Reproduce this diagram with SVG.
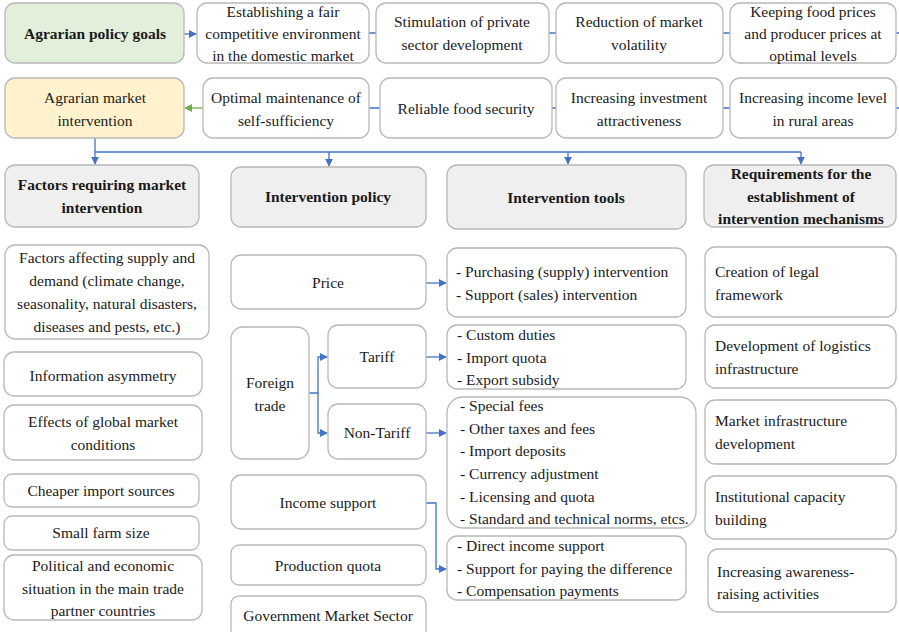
<svg xmlns="http://www.w3.org/2000/svg" width="899" height="632" viewBox="0 0 899 632">
<defs>
<style>
.bx{fill:#fff;stroke:#b8b8b8;stroke-width:1.3}
.hd{fill:#efefef;stroke:#b8b8b8;stroke-width:1.3}
.t{font-family:'Times New Roman','Liberation Serif',serif;font-size:15.5px;fill:#1a1a1a}
.c{text-anchor:middle}
.b{font-weight:bold}
.ln{fill:none;stroke:#4472c4;stroke-width:1.3}
.gl{fill:none;stroke:#70ad47;stroke-width:1.3}
</style>
<marker id="ab" viewBox="0 0 10 10" refX="9" refY="5" markerWidth="8" markerHeight="8" markerUnits="userSpaceOnUse" orient="auto"><path d="M0,0L10,5L0,10z" fill="#4472c4"/></marker>
<marker id="ag" viewBox="0 0 10 10" refX="9" refY="5" markerWidth="8" markerHeight="8" markerUnits="userSpaceOnUse" orient="auto"><path d="M0,0L10,5L0,10z" fill="#70ad47"/></marker>
</defs>
<rect width="899" height="632" fill="#fff"/>

<g id="connectors">
<path class="ln" d="M184,34H196" marker-end="url(#ab)"/>
<path class="ln" d="M369,33H376M549,33H556M723,33H730M896,33H899"/>
<path class="gl" d="M203,108H185" marker-end="url(#ag)"/>
<path class="ln" d="M369,108H380M552,108H556M723,108H730M896,108H899"/>
<path class="ln" d="M95,138V164" marker-end="url(#ab)"/>
<path class="ln" d="M95,152H801"/>
<path class="ln" d="M329,152V166" marker-end="url(#ab)"/>
<path class="ln" d="M568,152V164" marker-end="url(#ab)"/>
<path class="ln" d="M801,152V164" marker-end="url(#ab)"/>
<path class="ln" d="M426,283H446" marker-end="url(#ab)"/>
<path class="ln" d="M309,393H318V357H327" marker-end="url(#ab)"/>
<path class="ln" d="M318,393V433H327" marker-end="url(#ab)"/>
<path class="ln" d="M426,357H446" marker-end="url(#ab)"/>
<path class="ln" d="M426,433H446" marker-end="url(#ab)"/>
<path class="ln" d="M426,503H436V569H446" marker-end="url(#ab)"/>
</g>

<g id="n-goals"><rect x="5" y="3" width="179" height="60" rx="10" fill="#e2efda" stroke="#b8b8b8" stroke-width="1.3"/><text class="t c b" x="95" y="39">Agrarian policy goals</text></g>
<g id="n-g1"><rect class="bx" x="197" y="3" width="172" height="60" rx="10"/><text class="t c" x="283" y="17">Establishing a fair</text><text class="t c" x="283" y="39">competitive environment</text><text class="t c" x="283" y="61">in the domestic market</text></g>
<g id="n-g2"><rect class="bx" x="376" y="3" width="173" height="60" rx="10"/><text class="t c" x="462" y="27">Stimulation of private</text><text class="t c" x="462" y="50">sector development</text></g>
<g id="n-g3"><rect class="bx" x="556" y="3" width="167" height="60" rx="10"/><text class="t c" x="639" y="27">Reduction of market</text><text class="t c" x="639" y="50">volatility</text></g>
<g id="n-g4"><rect class="bx" x="730" y="3" width="166" height="60" rx="10"/><text class="t c" x="813" y="17">Keeping food prices</text><text class="t c" x="813" y="39">and producer prices at</text><text class="t c" x="813" y="61">optimal levels</text></g>

<g id="n-ami"><rect x="5" y="78" width="179" height="60" rx="10" fill="#fff2cc" stroke="#b8b8b8" stroke-width="1.3"/><text class="t c" x="95" y="103">Agrarian market</text><text class="t c" x="95" y="126">intervention</text></g>
<g id="n-r1"><rect class="bx" x="203" y="78" width="166" height="60" rx="10"/><text class="t c" x="286" y="103">Optimal maintenance of</text><text class="t c" x="286" y="126">self-sufficiency</text></g>
<g id="n-r2"><rect class="bx" x="380" y="78" width="172" height="60" rx="10"/><text class="t c" x="466" y="114">Reliable food security</text></g>
<g id="n-r3"><rect class="bx" x="556" y="78" width="167" height="60" rx="10"/><text class="t c" x="639" y="103">Increasing investment</text><text class="t c" x="639" y="126">attractiveness</text></g>
<g id="n-r4"><rect class="bx" x="730" y="78" width="166" height="60" rx="10"/><text class="t c" x="813" y="103">Increasing income level</text><text class="t c" x="813" y="126">in rural areas</text></g>

<g id="h-factors"><rect class="hd" x="5" y="165" width="194" height="62" rx="10"/><text class="t c b" x="102" y="190">Factors requiring market</text><text class="t c b" x="102" y="213">intervention</text></g>
<g id="h-policy"><rect class="hd" x="231" y="167" width="195" height="60" rx="10"/><text class="t c b" x="328" y="202">Intervention policy</text></g>
<g id="h-tools"><rect class="hd" x="447" y="165" width="239" height="64" rx="10"/><text class="t c b" x="566" y="203">Intervention tools</text></g>
<g id="h-req"><rect class="hd" x="704" y="165" width="192" height="62" rx="10"/><text class="t c b" x="801" y="179">Requirements for the</text><text class="t c b" x="801" y="202">establishment of</text><text class="t c b" x="801" y="224">intervention mechanisms</text></g>

<g id="f1"><rect class="bx" x="5" y="245" width="204" height="94" rx="10"/><text class="t c" x="107" y="263">Factors affecting supply and</text><text class="t c" x="107" y="286">demand (climate change,</text><text class="t c" x="107" y="309">seasonality, natural disasters,</text><text class="t c" x="107" y="332">diseases and pests, etc.)</text></g>
<g id="f2"><rect class="bx" x="4" y="352" width="198" height="44" rx="10"/><text class="t c" x="103" y="381">Information asymmetry</text></g>
<g id="f3"><rect class="bx" x="4" y="405" width="198" height="55" rx="10"/><text class="t c" x="103" y="427">Effects of global market</text><text class="t c" x="103" y="450">conditions</text></g>
<g id="f4"><rect class="bx" x="4" y="474" width="195" height="33" rx="8"/><text class="t c" x="101" y="496">Cheaper import sources</text></g>
<g id="f5"><rect class="bx" x="4" y="516" width="195" height="34" rx="8"/><text class="t c" x="101" y="538">Small farm size</text></g>
<g id="f6"><rect class="bx" x="4" y="555" width="198" height="65" rx="10"/><text class="t c" x="103" y="571">Political and economic</text><text class="t c" x="103" y="594">situation in the main trade</text><text class="t c" x="103" y="616">partner countries</text></g>

<g id="p-price"><rect class="bx" x="231" y="255" width="195" height="54" rx="10"/><text class="t c" x="328" y="288">Price</text></g>
<g id="p-foreign"><rect class="bx" x="231" y="327" width="78" height="132" rx="12"/><text class="t c" x="270" y="388">Foreign</text><text class="t c" x="270" y="411">trade</text></g>
<g id="p-tariff"><rect class="bx" x="328" y="325" width="98" height="63" rx="10"/><text class="t c" x="377" y="362">Tariff</text></g>
<g id="p-nontariff"><rect class="bx" x="328" y="404" width="98" height="55" rx="10"/><text class="t c" x="377" y="438">Non-Tariff</text></g>
<g id="p-income"><rect class="bx" x="231" y="475" width="195" height="54" rx="10"/><text class="t c" x="328" y="508">Income support</text></g>
<g id="p-quota"><rect class="bx" x="231" y="545" width="195" height="40" rx="8"/><text class="t c" x="328" y="571">Production quota</text></g>
<g id="p-gov"><rect class="bx" x="231" y="596" width="195" height="44" rx="8"/><text class="t c" x="328" y="621">Government Market Sector</text></g>

<g id="t-price"><rect class="bx" x="447" y="248" width="239" height="69" rx="10"/><text class="t" x="456" y="277">- Purchasing (supply) intervention</text><text class="t" x="456" y="300">- Support (sales) intervention</text></g>
<g id="t-tariff"><rect class="bx" x="447" y="325" width="239" height="64" rx="10"/><text class="t" x="457" y="340">- Custom duties</text><text class="t" x="457" y="363">- Import quota</text><text class="t" x="457" y="385">- Export subsidy</text></g>
<g id="t-nontariff"><rect class="bx" x="447" y="397" width="249" height="131" rx="16"/><text class="t" x="460" y="411">- Special fees</text><text class="t" x="460" y="434">- Other taxes and fees</text><text class="t" x="460" y="456">- Import deposits</text><text class="t" x="460" y="479">- Currency adjustment</text><text class="t" x="460" y="502">- Licensing and quota</text><text class="t" x="460" y="524">- Standard and technical norms, etcs.</text></g>
<g id="t-income"><rect class="bx" x="447" y="536" width="239" height="64" rx="10"/><text class="t" x="457" y="551">- Direct income support</text><text class="t" x="457" y="574">- Support for paying the difference</text><text class="t" x="457" y="596">- Compensation payments</text></g>

<g id="q1"><rect class="bx" x="705" y="247" width="191" height="70" rx="10"/><text class="t" x="715" y="277">Creation of legal</text><text class="t" x="715" y="300">framework</text></g>
<g id="q2"><rect class="bx" x="705" y="325" width="191" height="63" rx="10"/><text class="t" x="715" y="351">Development of logistics</text><text class="t" x="715" y="374">infrastructure</text></g>
<g id="q3"><rect class="bx" x="705" y="400" width="191" height="64" rx="10"/><text class="t" x="715" y="426">Market infrastructure</text><text class="t" x="715" y="449">development</text></g>
<g id="q4"><rect class="bx" x="705" y="476" width="191" height="63" rx="10"/><text class="t" x="715" y="502">Institutional capacity</text><text class="t" x="715" y="525">building</text></g>
<g id="q5"><rect class="bx" x="708" y="549" width="188" height="63" rx="10"/><text class="t" x="717" y="577">Increasing awareness-</text><text class="t" x="717" y="599">raising activities</text></g>
</svg>
